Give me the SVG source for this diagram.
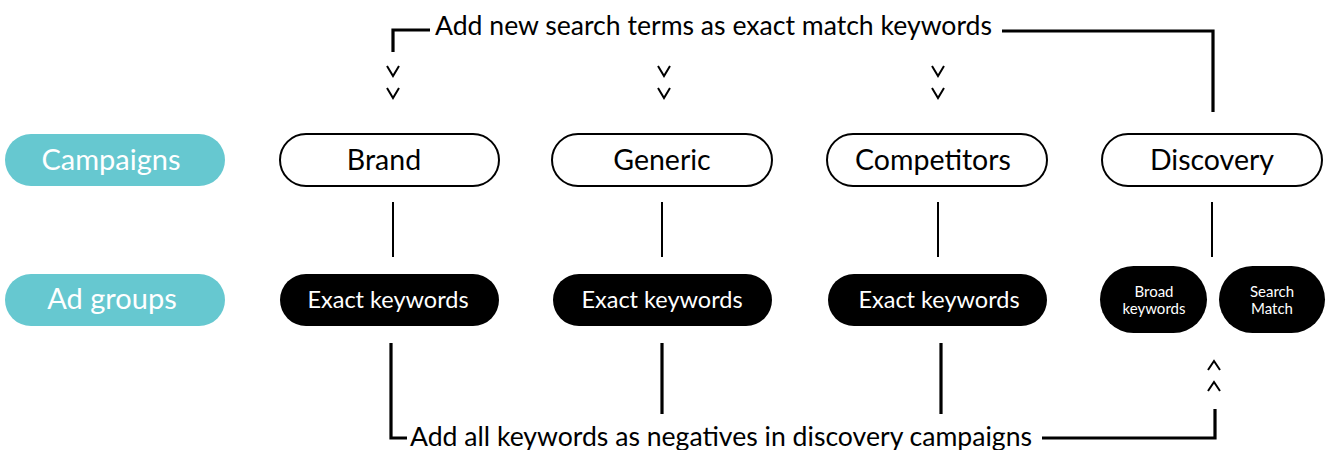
<svg xmlns="http://www.w3.org/2000/svg" width="1329" height="450" viewBox="0 0 1329 450">
<style>
  .lbl{fill:#66c8d0}
  .lbltxt{font-family:Lato,"Liberation Sans",sans-serif;font-size:29px;fill:#ffffff;text-anchor:middle}
  .camp{fill:#ffffff;stroke:#000;stroke-width:2}
  .camptxt{font-family:Lato,"Liberation Sans",sans-serif;font-size:28.5px;fill:#000;text-anchor:middle}
  .ag{fill:#000}
  .agtxt{font-family:Lato,"Liberation Sans",sans-serif;font-size:23.5px;fill:#fff;text-anchor:middle}
  .agsm{font-family:Lato,"Liberation Sans",sans-serif;font-size:15px;fill:#fff;text-anchor:middle}
  .note{font-family:Lato,"Liberation Sans",sans-serif;font-size:26.6px;fill:#000}
  .thin{stroke:#000;stroke-width:2;fill:none}
  .thick{stroke:#000;stroke-width:3.2;fill:none}
  .chev{stroke:#000;stroke-width:2;fill:none}
</style>
<rect width="1329" height="450" fill="#ffffff"/>
<g id="label-campaigns">
  <rect class="lbl" x="5" y="134" width="220" height="52" rx="26"/>
  <text class="lbltxt" x="111" y="170">Campaigns</text>
</g>
<g id="label-adgroups">
  <rect class="lbl" x="5" y="274" width="220" height="52" rx="26"/>
  <text class="lbltxt" x="112" y="309">Ad groups</text>
</g>
<g id="brand">
  <rect class="camp" x="280" y="134" width="219" height="52" rx="26"/>
  <text class="camptxt" x="384" y="170">Brand</text>
</g>
<g id="generic">
  <rect class="camp" x="552" y="134" width="220" height="52" rx="26"/>
  <text class="camptxt" x="662" y="170">Generic</text>
</g>
<g id="competitors">
  <rect class="camp" x="827" y="134" width="220" height="52" rx="26"/>
  <text class="camptxt" x="933" y="170">Competitors</text>
</g>
<g id="discovery">
  <rect class="camp" x="1102" y="134" width="220" height="52" rx="26"/>
  <text class="camptxt" x="1212" y="170">Discovery</text>
</g>
<g id="brand-exact">
  <rect class="ag" x="280" y="274" width="219" height="52" rx="26"/>
  <text class="agtxt" x="388" y="308">Exact keywords</text>
</g>
<g id="generic-exact">
  <rect class="ag" x="553" y="274" width="219" height="52" rx="26"/>
  <text class="agtxt" x="662" y="308">Exact keywords</text>
</g>
<g id="competitors-exact">
  <rect class="ag" x="828" y="274" width="219" height="52" rx="26"/>
  <text class="agtxt" x="939" y="308">Exact keywords</text>
</g>
<g id="discovery-broad">
  <rect class="ag" x="1100" y="266" width="107" height="67" rx="33.5"/>
  <text class="agsm" x="1154" y="297">Broad</text>
  <text class="agsm" x="1154" y="314">keywords</text>
</g>
<g id="discovery-searchmatch">
  <rect class="ag" x="1219" y="266" width="106" height="67" rx="33.5"/>
  <text class="agsm" x="1272" y="297">Search</text>
  <text class="agsm" x="1272" y="314">Match</text>
</g>
<g id="notes">
  <text class="note" x="435" y="35">Add new search terms as exact match keywords</text>
  <text class="note" x="410" y="446">Add all keywords as negatives in discovery campaigns</text>
</g>
<g id="connectors">
  <line class="thin" x1="393" y1="202" x2="393" y2="257"/>
  <line class="thin" x1="662" y1="202" x2="662" y2="257"/>
  <line class="thin" x1="938" y1="202" x2="938" y2="257"/>
  <line class="thin" x1="1212" y1="202" x2="1212" y2="257"/>
  <polyline class="thick" points="430,30 393,30 393,52"/>
  <polyline class="thick" points="1002,31 1213,31 1213,112"/>
  <polyline class="thick" points="391,343 391,438 407,438"/>
  <line class="thick" x1="662" y1="343" x2="662" y2="414"/>
  <line class="thick" x1="941" y1="343" x2="941" y2="414"/>
  <polyline class="thick" points="1042,438 1215,438 1215,409"/>
  <polyline class="chev" points="387,66 393,76 399,66"/>
  <polyline class="chev" points="387,88 393,98 399,88"/>
  <polyline class="chev" points="658,66 664,76 670,66"/>
  <polyline class="chev" points="658,88 664,98 670,88"/>
  <polyline class="chev" points="932,66 938,76 944,66"/>
  <polyline class="chev" points="932,88 938,98 944,88"/>
  <polyline class="chev" points="1208,370 1214,361 1220,370"/>
  <polyline class="chev" points="1208,391 1214,382 1220,391"/>
</g>
</svg>
